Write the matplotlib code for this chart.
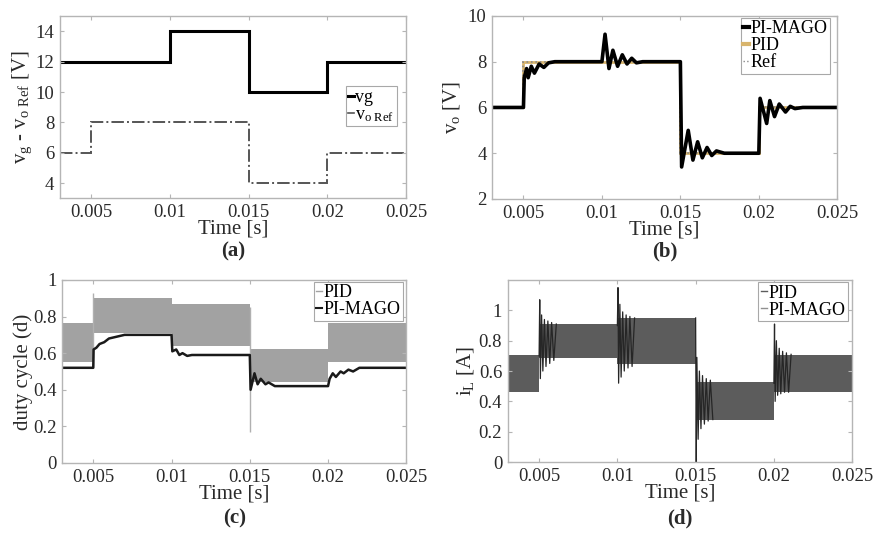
import numpy as np
import matplotlib
matplotlib.use("Agg")
import matplotlib.pyplot as plt
from matplotlib.lines import Line2D

plt.rcParams["font.family"] = ["Liberation Serif", "DejaVu Serif"]
plt.rcParams["mathtext.fontset"] = "custom"
plt.rcParams["mathtext.rm"] = "Liberation Serif"
plt.rcParams["mathtext.it"] = "Liberation Serif"
plt.rcParams["font.size"] = 13

# segment edges of the reference profile (s)
edges = [0.003, 0.005, 0.01, 0.015, 0.02, 0.025]
xticks = [0.005, 0.01, 0.015, 0.02, 0.025]
xtick_labels = ["0.005", "0.01", "0.015", "0.02", "0.025"]

# (a) input voltage and output reference
vg = [12, 12, 14, 10, 12]
vo_ref = [6, 8, 8, 4, 6]

# (b) output voltage
vo_pid = [6, 8, 8, 4, 6]
vo_mago_t = [0.003, 0.005, 0.00505, 0.0052, 0.0053, 0.0055, 0.0057, 0.006, 0.0063, 0.0066, 0.007,
             0.0100, 0.0102, 0.01045, 0.0107, 0.0110, 0.0113, 0.0116, 0.0119, 0.0122, 0.0126,
             0.0150, 0.01508, 0.0155, 0.0158, 0.0161, 0.0164, 0.0167, 0.0170, 0.0173, 0.0178,
             0.0200, 0.02008, 0.0205, 0.0207, 0.0210, 0.0213, 0.0217, 0.0220, 0.0223, 0.0228, 0.025]
vo_mago_v = [6, 6, 7.3, 7.7, 7.3, 7.8, 7.5, 7.9, 7.75, 7.95, 8.0,
             8.0, 9.2, 7.7, 8.5, 7.8, 8.3, 7.9, 8.15, 7.95, 8.0,
             8.0, 3.4, 5.0, 3.7, 4.5, 3.8, 4.25, 3.9, 4.1, 4.0,
             4.0, 6.4, 5.3, 6.3, 5.6, 6.15, 5.8, 6.05, 5.95, 6.0, 6.0]

# (c) duty cycle: PID ripple band and PI-MAGO trace
d_pid_lo = [0.55, 0.71, 0.64, 0.445, 0.55]
d_pid_hi = [0.765, 0.90, 0.87, 0.625, 0.765]
d_spike_t = [0.005, 0.015]
d_spike_lo = [0.53, 0.17]
d_spike_hi = [0.93, 0.85]
d_mago_t = [0.003, 0.005, 0.00502, 0.0052, 0.0054, 0.0057, 0.006, 0.0065, 0.007,
            0.0100, 0.01005, 0.0103, 0.0105, 0.0107, 0.011, 0.0113, 0.012,
            0.0150, 0.01505, 0.0153, 0.0155, 0.0157, 0.016, 0.0162, 0.0166,
            0.0200, 0.0201, 0.0203, 0.0205, 0.0208, 0.021, 0.0213, 0.0216, 0.022, 0.025]
d_mago_v = [0.52, 0.52, 0.62, 0.63, 0.65, 0.66, 0.68, 0.69, 0.70,
            0.70, 0.61, 0.62, 0.59, 0.60, 0.585, 0.59, 0.59,
            0.59, 0.40, 0.49, 0.43, 0.46, 0.43, 0.44, 0.42,
            0.42, 0.46, 0.49, 0.47, 0.50, 0.49, 0.51, 0.50, 0.52, 0.52]

# (d) inductor current ripple band and the transients after each step
il_lo = [0.464, 0.688, 0.644, 0.28, 0.464]
il_hi = [0.705, 0.91, 0.95, 0.53, 0.705]
il_step1_t = [0.0050, 0.00504, 0.00508, 0.00516, 0.00524, 0.00534, 0.00544, 0.00556, 0.00568, 0.0058, 0.00594, 0.0061]
il_step1_v = [0.70, 1.07, 0.55, 0.97, 0.60, 0.94, 0.63, 0.93, 0.65, 0.92, 0.67, 0.91]
il_step2_t = [0.0100, 0.01004, 0.01008, 0.01016, 0.01024, 0.01034, 0.01044, 0.01056, 0.01068, 0.0108, 0.01094, 0.0111]
il_step2_v = [0.90, 1.15, 0.52, 1.04, 0.56, 0.99, 0.60, 0.97, 0.62, 0.96, 0.63, 0.95]
il_step3_t = [0.0150, 0.01504, 0.01508, 0.01516, 0.01524, 0.01534, 0.01544, 0.01556, 0.01568, 0.0158, 0.01594, 0.0161]
il_step3_v = [0.95, 0.0, 0.69, 0.15, 0.60, 0.22, 0.57, 0.25, 0.55, 0.27, 0.54, 0.28]
il_step4_t = [0.0200, 0.02004, 0.02008, 0.02016, 0.02024, 0.02034, 0.02044, 0.02056, 0.02068, 0.0208, 0.02094, 0.0211]
il_step4_v = [0.52, 0.91, 0.40, 0.80, 0.44, 0.75, 0.45, 0.73, 0.46, 0.72, 0.46, 0.71]

spine_col = "#b5b5b5"
txt_col = "#2a2a2a"

fig = plt.figure(figsize=(8.74, 5.4), dpi=100)
ax_a = fig.add_axes([0.0686, 0.633, 0.396, 0.337])
ax_b = fig.add_axes([0.563, 0.6315, 0.395, 0.339])
ax_c = fig.add_axes([0.0709, 0.1426, 0.394, 0.339])
ax_d = fig.add_axes([0.581, 0.1444, 0.394, 0.337])


def style_axes(ax, ylim, yticks, ylabels):
    ax.set_xlim(edges[0], edges[-1])
    ax.set_ylim(*ylim)
    ax.set_xticks(xticks)
    ax.set_xticklabels(xtick_labels)
    ax.set_yticks(yticks)
    ax.set_yticklabels(ylabels)
    for s in ax.spines.values():
        s.set_color(spine_col)
        s.set_linewidth(1.0)
    ax.tick_params(direction="in", length=3, color=spine_col, labelcolor=txt_col,
                   labelsize=13.5, top=True, right=True, pad=4)
    ax.set_xlabel("Time [s]", fontsize=15, color=txt_col, labelpad=-1)


def make_legend(ax, handles, labels, anchor):
    leg = ax.legend(handles, labels, loc="upper right", bbox_to_anchor=anchor,
                    fontsize=13, handlelength=0.3, handletextpad=0.1,
                    borderpad=0.15, labelspacing=0.0, borderaxespad=0,
                    fancybox=False, framealpha=1)
    leg.get_frame().set_edgecolor("#a8a8a8")
    leg.get_frame().set_linewidth(0.8)
    return leg


# (a)
ax_a.stairs(vg, edges, color="black", lw=2.2, baseline=None)
ax_a.stairs(vo_ref, edges, color="#555555", lw=1.4, ls="-.", baseline=None)
style_axes(ax_a, (3, 15), [4, 6, 8, 10, 12, 14], ["4", "6", "8", "10", "12", "14"])
ax_a.set_ylabel(r"v$_\mathrm{g}$ - v$_\mathrm{o\ Ref}$ [V]", fontsize=15, color=txt_col, labelpad=1)
make_legend(ax_a, [Line2D([], [], color="black", lw=2.2), Line2D([], [], color="#555555", lw=1.2)],
            ["vg", r"v$_\mathrm{o\ Ref}$"], (0.974, 0.615))

# (b)
ax_b.stairs(vo_pid, edges, color="#d8b46c", lw=2.0, baseline=None)
ax_b.plot(vo_mago_t, vo_mago_v, color="black", lw=2.6)
ax_b.stairs(vo_ref, edges, color="#8a8a8a", lw=1.2, ls=":", baseline=None)
style_axes(ax_b, (2, 10), [2, 4, 6, 8, 10], ["2", "4", "6", "8", "10"])
ax_b.set_ylabel(r"v$_\mathrm{o}$ [V]", fontsize=15, color=txt_col, labelpad=4)
make_legend(ax_b, [Line2D([], [], color="black", lw=3), Line2D([], [], color="#d8b46c", lw=3),
                   Line2D([], [], color="#8a8a8a", lw=1, ls=":")],
            ["PI-MAGO", "PID", "Ref"], (0.98, 0.99))

# (c)
xs = np.repeat(edges, 2)[1:-1]
ax_c.fill_between(xs, np.repeat(d_pid_lo, 2), np.repeat(d_pid_hi, 2), color="#a2a2a2", lw=0)
ax_c.vlines(d_spike_t, d_spike_lo, d_spike_hi, color="#b0b0b0", lw=1.0)
ax_c.plot(d_mago_t, d_mago_v, color="#1a1a1a", lw=1.8)
style_axes(ax_c, (0, 1), [0, 0.2, 0.4, 0.6, 0.8, 1], ["0", "0.2", "0.4", "0.6", "0.8", "1"])
ax_c.set_ylabel("duty cycle (d)", fontsize=15, color=txt_col, labelpad=0)
make_legend(ax_c, [Line2D([], [], color="#a2a2a2", lw=1), Line2D([], [], color="#1a1a1a", lw=1.5)],
            ["PID", "PI-MAGO"], (0.991, 0.99))

# (d)
ax_d.fill_between(xs, np.repeat(il_lo, 2), np.repeat(il_hi, 2), color="#5c5c5c", lw=0)
for tt, vv in [(il_step1_t, il_step1_v), (il_step2_t, il_step2_v),
               (il_step3_t, il_step3_v), (il_step4_t, il_step4_v)]:
    ax_d.plot(tt, vv, color="#262626", lw=0.9)
style_axes(ax_d, (0, 1.2), [0, 0.2, 0.4, 0.6, 0.8, 1], ["0", "0.2", "0.4", "0.6", "0.8", "1"])
ax_d.set_ylabel(r"i$_\mathrm{L}$ [A]", fontsize=15, color=txt_col, labelpad=2)
make_legend(ax_d, [Line2D([], [], color="#5c5c5c", lw=1), Line2D([], [], color="#909090", lw=1)],
            ["PID", "PI-MAGO"], (0.988, 0.99))

# panel captions
for ax, lab, y in [(ax_a, "(a)", 0.535), (ax_b, "(b)", 0.535), (ax_c, "(c)", 0.04), (ax_d, "(d)", 0.04)]:
    bb = ax.get_position()
    fig.text((bb.x0 + bb.x1) / 2, y, lab, ha="center", va="center", fontsize=15,
             fontweight="bold", color=txt_col)

fig.savefig("out.png", dpi=100)
